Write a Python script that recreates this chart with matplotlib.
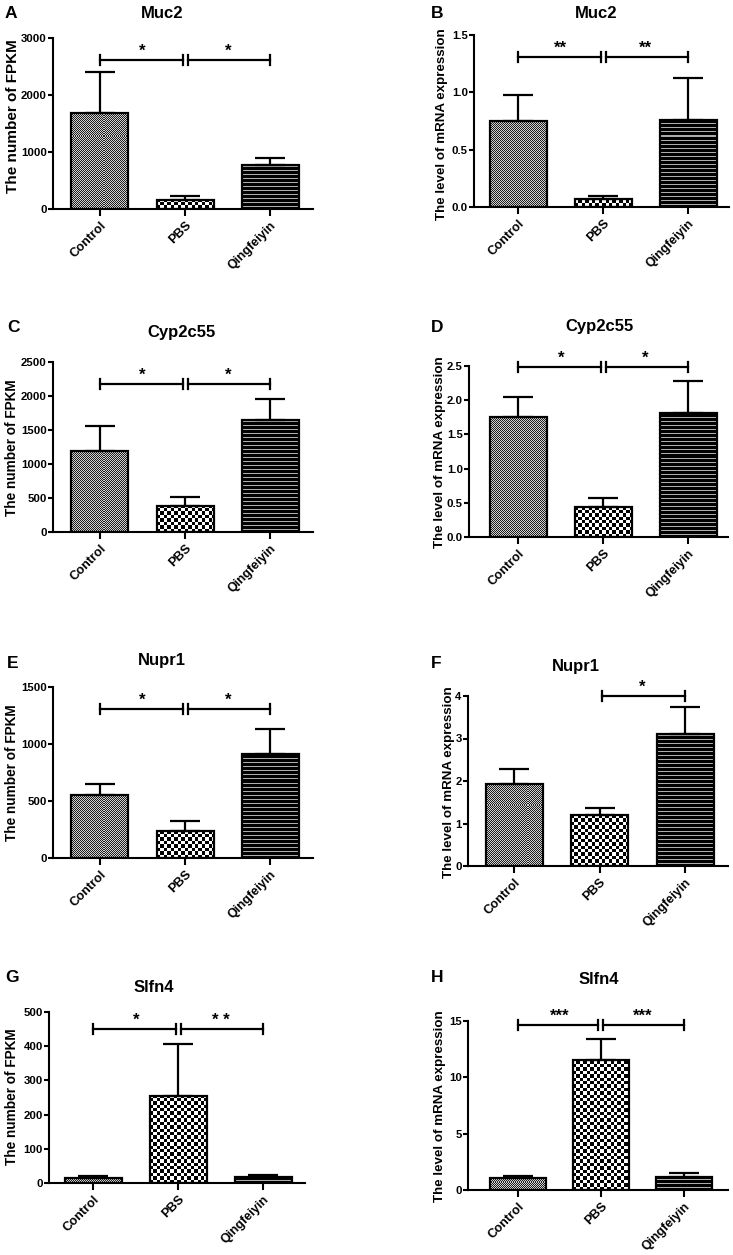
import numpy as np
import matplotlib
matplotlib.use('Agg')
import matplotlib.pyplot as plt
from matplotlib.ticker import FormatStrFormatter, MultipleLocator
from matplotlib.transforms import offset_copy

plt.rcParams['font.family'] = ['Liberation Sans', 'DejaVu Sans']
plt.rcParams['font.weight'] = 'bold'

groups = ['Control', 'PBS', 'Qingfeiyin']

muc2_fpkm = [1690, 164, 766]
muc2_fpkm_sd = [720, 70, 123]
muc2_mrna = [0.75, 0.073, 0.762]
muc2_mrna_sd = [0.23, 0.026, 0.365]
cyp_fpkm = [1191, 386, 1646]
cyp_fpkm_sd = [367, 127, 312]
cyp_mrna = [1.753, 0.437, 1.816]
cyp_mrna_sd = [0.30, 0.126, 0.471]
nupr_fpkm = [550, 234, 915]
nupr_fpkm_sd = [102, 91, 216]
nupr_mrna = [1.937, 1.20, 3.098]
nupr_mrna_sd = [0.353, 0.165, 0.642]
slfn_fpkm = [15.5, 254, 17.5]
slfn_fpkm_sd = [4.5, 153, 5.5]
slfn_mrna = [1.08, 11.51, 1.14]
slfn_mrna_sd = [0.18, 1.88, 0.35]

W, H, DPI = 733, 1255, 100
fig = plt.figure(figsize=(W / DPI, H / DPI), dpi=DPI)


def fig_xy(px, py):
    return px / W, 1 - py / H


def texture(ax, bar, kind):
    x0, w, h = bar.get_x(), bar.get_width(), bar.get_height()
    p0 = ax.transData.transform((x0, 0))
    p1 = ax.transData.transform((x0 + w, h))
    wpx, hpx = p1[0] - p0[0], p1[1] - p0[1]
    if hpx <= 0:
        return
    dx, dy = w / wpx, h / hpx
    cell = {'fine': 1.0, 'check': 3.4, 'stripe': 1.0}[kind]
    nx = int(np.ceil(wpx / cell)) + 1
    ny = int(np.ceil(hpx / cell)) + 1
    jj, ii = np.meshgrid(np.arange(nx), np.arange(ny))
    if kind == 'fine':
        m = (ii + jj) % 2 == 0
        lo, hi = np.array([0.12, 0.12, 0.12]), np.array([0.82, 0.82, 0.82])
    elif kind == 'check':
        m = (ii + jj) % 2 == 0
        lo, hi = np.array([0.0, 0.0, 0.0]), np.array([1.0, 1.0, 1.0])
    else:
        m = ii % 4 != 2
        lo, hi = np.array([0.0, 0.0, 0.0]), np.array([0.68, 0.68, 0.68])
    img = np.where(m[..., None], lo, hi)
    im = ax.imshow(img, extent=(x0, x0 + nx * cell * dx, 0, ny * cell * dy),
                   origin='lower', interpolation='nearest', aspect='auto', zorder=1)
    im.set_clip_path(bar)


def panel(box, xlim, vals, sd, ymax, step, fmt, title, letter, ylabel, lab_xy,
          title_xy, letter_xy, sig, sig_y, ylab_size):
    left, right, top, bottom = box
    ax = fig.add_axes([left / W, 1 - bottom / H, (right - left) / W, (bottom - top) / H])
    ax.set_xlim(*xlim)
    ax.set_ylim(0, ymax)
    x = np.arange(len(groups))
    bars = ax.bar(x, vals, width=0.67, facecolor='none', edgecolor='black',
                  linewidth=1.6, zorder=3)
    for b, kind in zip(bars, ['fine', 'check', 'stripe']):
        texture(ax, b, kind)
    ax.errorbar(x, vals, yerr=[np.zeros(len(vals)), sd], fmt='none', ecolor='black',
                elinewidth=1.6, capsize=10.5, capthick=1.6, zorder=2)
    ax.set_xlim(*xlim)
    ax.set_ylim(0, ymax)
    for s in ['top', 'right']:
        ax.spines[s].set_visible(False)
    for s in ['left', 'bottom']:
        ax.spines[s].set_linewidth(1.5)
    ax.yaxis.set_major_locator(MultipleLocator(step))
    ax.yaxis.set_major_formatter(FormatStrFormatter(fmt))
    ax.tick_params(axis='y', direction='out', length=3.5, width=1.5, labelsize=8.2, pad=1)
    ax.tick_params(axis='x', direction='out', length=5, width=1.5, labelsize=9.2, pad=2.5)
    ax.set_xticks(x)
    ax.set_xticklabels(groups, rotation=45, ha='right', va='top', rotation_mode='anchor',
                       fontweight='bold')
    for lab in ax.get_yticklabels():
        lab.set_fontweight('bold')
    # significance brackets
    hpx = bottom - top
    tick = 5.0 / hpx * ymax
    gap = 0.03
    for i0, i1, star in sig:
        a = i0 + (gap if i0 == 1 else 0)
        b = i1 - (gap if i1 == 1 else 0)
        ax.plot([a, b], [sig_y, sig_y], color='black', lw=1.6, clip_on=False, zorder=4)
        for xx in (a, b):
            ax.plot([xx, xx], [sig_y - tick, sig_y + tick], color='black', lw=1.6,
                    clip_on=False, zorder=4)
        tr = offset_copy(ax.transData, fig=fig, x=0, y=1, units='dots')
        ax.text((i0 + i1) / 2, sig_y, star, ha='center', va='bottom', fontsize=12,
                fontweight='bold', transform=tr, clip_on=False)
    fx, fy = fig_xy(*title_xy)
    fig.text(fx, fy, title, ha='center', va='center', fontsize=12, fontweight='bold')
    fx, fy = fig_xy(*letter_xy)
    fig.text(fx, fy, letter, ha='left', va='center', fontsize=12.5, fontweight='bold')
    fx, fy = fig_xy(*lab_xy)
    fig.text(fx, fy, ylabel, ha='center', va='center', rotation=90,
             fontsize=ylab_size, fontweight='bold')
    return ax


fp = 'The number of FPKM'
mr = 'The level of mRNA expression'
both = lambda s1, s2: [(0, 1, s1), (1, 2, s2)]

panel((53, 313, 38, 209), (-0.55, 2.5), muc2_fpkm, muc2_fpkm_sd, 3000, 1000, '%d',
      'Muc2', 'A', fp, (13, 116), (162, 13), (5, 13), both('*', '*'), 2620, 11)
panel((474, 729, 35, 207), (-0.52, 2.48), muc2_mrna, muc2_mrna_sd, 1.5, 0.5, '%.1f',
      'Muc2', 'B', mr, (442, 124), (596, 13), (431, 13), both('**', '**'), 1.31, 9.6)
panel((53, 313, 362, 532), (-0.55, 2.5), cyp_fpkm, cyp_fpkm_sd, 2500, 500, '%d',
      'Cyp2c55', 'C', fp, (12, 448), (181, 332), (7, 328), both('*', '*'), 2183, 9.8)
panel((469, 728, 366, 537), (-0.58, 2.47), cyp_mrna, cyp_mrna_sd, 2.5, 0.5, '%.1f',
      'Cyp2c55', 'D', mr, (440, 452), (599, 326), (431, 328), both('*', '*'), 2.485, 9.6)
panel((53, 313, 687, 858), (-0.55, 2.5), nupr_fpkm, nupr_fpkm_sd, 1500, 500, '%d',
      'Nupr1', 'E', fp, (12, 773), (162, 660), (7, 663), both('*', '*'), 1310, 9.8)
panel((468, 728, 696, 866), (-0.54, 2.5), nupr_mrna, nupr_mrna_sd, 4, 1, '%d',
      'Nupr1', 'F', mr, (449, 782), (576, 667), (431, 663), [(1, 2, '*')], 4.0, 9.6)
panel((49, 305, 1012, 1183), (-0.52, 2.49), slfn_fpkm, slfn_fpkm_sd, 500, 100, '%d',
      'Slfn4', 'G', fp, (12, 1097), (154, 987), (5, 977), both('*', '* *'), 451, 9.8)
panel((468, 728, 1021, 1190), (-0.6, 2.53), slfn_mrna, slfn_mrna_sd, 15, 5, '%d',
      'Slfn4', 'H', mr, (440, 1106), (599, 979), (431, 977), both('***', '***'), 14.65, 9.6)

fig.savefig('out.png', dpi=DPI)
